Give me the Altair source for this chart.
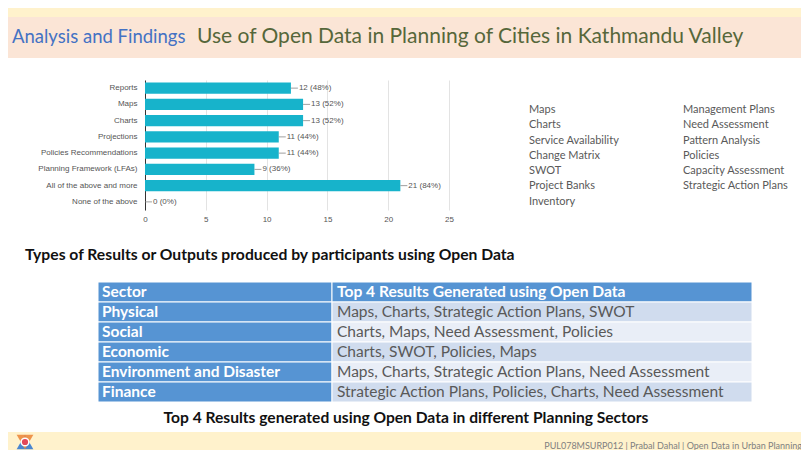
import altair as alt
import pandas as pd

# ---------------- data ----------------
options = ["Reports", "Maps", "Charts", "Projections", "Policies Recommendations",
           "Planning Framework (LFAs)", "All of the above and more", "None of the above"]
counts = [12, 13, 13, 11, 11, 9, 21, 0]
percents = [48, 52, 52, 44, 44, 36, 84, 0]
x_ticks = [0, 5, 10, 15, 20, 25]

list_col1 = ["Maps", "Charts", "Service Availability", "Change Matrix", "SWOT",
             "Project Banks", "Inventory"]
list_col2 = ["Management Plans", "Need Assessment", "Pattern Analysis", "Policies",
             "Capacity Assessment", "Strategic Action Plans"]

table_header = ["Sector", "Top 4 Results Generated using Open Data"]
sectors = ["Physical", "Social", "Economic", "Environment and Disaster", "Finance"]
top4 = ["Maps, Charts, Strategic Action Plans, SWOT",
        "Charts, Maps, Need Assessment, Policies",
        "Charts, SWOT, Policies, Maps",
        "Maps, Charts, Strategic Action Plans, Need Assessment",
        "Strategic Action Plans, Policies, Charts, Need Assessment"]

section_label = "Analysis and Findings"
slide_title = "Use of Open Data in Planning of Cities in Kathmandu Valley"
subtitle = "Types of Results or Outputs produced by participants using Open Data"
caption = "Top 4 Results generated using Open Data in different Planning Sectors"
footer = "PUL078MSURP012 | Prabal Dahal | Open Data in Urban Planning"

# ---------------- layout ----------------
W, H = 304, 130
PAD_L, PAD_T = 137, 72
TOTAL_W, TOTAL_H = 793, 442
PAD_R = TOTAL_W - PAD_L - W
PAD_B = TOTAL_H - PAD_T - H
LEFT = -PAD_L
RIGHT = TOTAL_W - PAD_L
BOTTOM = TOTAL_H - PAD_T

SLIDE_FONT = "Lato"
FORM_FONT = "Liberation Sans"

dummy = pd.DataFrame({"k": [0]})


def band(y0, y1, color):
    return alt.Chart(dummy).mark_rect(color=color).encode(
        x=alt.value(LEFT), x2=alt.value(RIGHT), y=alt.value(y0), y2=alt.value(y1))


def label(text, x, y, size, color, weight="normal", align="left", font=SLIDE_FONT,
          baseline="middle"):
    return alt.Chart(dummy).mark_text(
        text=text, align=align, baseline=baseline, fontSize=size, color=color,
        fontWeight=weight, font=font).encode(x=alt.value(x), y=alt.value(y))


backgrounds = [
    band(-72, -63, "#fff2cc"),
    band(-63, -22, "#fbe5d6"),
    band(352, BOTTOM, "#fff2cc"),
]

titles = [
    label(section_label, -133, -37, 18.5, "#4472c4", baseline="alphabetic"),
    label(slide_title, 52, -37, 21, "#56673a", baseline="alphabetic"),
    label(subtitle, -120, 175, 15.7, "#111111", weight="bold"),
    label(caption, 261, 338, 15.6, "#111111", weight="bold", align="center"),
    label(footer, 657, 366, 9, "#808080", align="right"),
]

# logo (hexagram)
LOGO_X, LOGO_Y = -120, 362
logo = [
    alt.Chart(dummy).mark_point(shape="triangle-up", filled=True, size=280,
                                color="#4a86cf", opacity=1).encode(
        x=alt.value(LOGO_X), y=alt.value(LOGO_Y)),
    alt.Chart(dummy).mark_point(shape="triangle-down", filled=True, size=280,
                                color="#ec8a3e", opacity=0.9).encode(
        x=alt.value(LOGO_X), y=alt.value(LOGO_Y)),
    alt.Chart(dummy).mark_point(shape="circle", filled=True, size=60,
                                color="#e2475a", stroke="white", strokeWidth=1.5,
                                opacity=1).encode(
        x=alt.value(LOGO_X), y=alt.value(LOGO_Y)),
]

# ---------------- bar chart ----------------
bars_df = pd.DataFrame({
    "option": options,
    "count": counts,
    "label": [f"{c} ({p}%)" for c, p in zip(counts, percents)],
})

bx = alt.X("count:Q", scale=alt.Scale(domain=[0, 25], nice=False),
           axis=alt.Axis(values=x_ticks, title=None, grid=True, gridColor="#e3e3e3",
                         domain=False, ticks=False, tickSize=0, labelFlush=False,
                         labelFontSize=8, labelColor="#555555", labelFont=FORM_FONT,
                         labelPadding=5))
by = alt.Y("option:N", sort=options,
           scale=alt.Scale(paddingInner=0.32, paddingOuter=0.16),
           axis=alt.Axis(title=None, ticks=False, tickSize=0, domain=True,
                         domainColor="#333333", labelFontSize=8, labelColor="#555555",
                         labelFont=FORM_FONT, labelPadding=8, labelLimit=200))

bars = alt.Chart(bars_df).mark_bar(color="#17b3cb").encode(x=bx, y=by)
leaders = alt.Chart(bars_df).mark_rule(color="#888888", strokeWidth=0.8,
                                       x2Offset=7).encode(
    x="count:Q", x2="count:Q", y=alt.Y("option:N", sort=options))
values = alt.Chart(bars_df).mark_text(align="left", baseline="middle", dx=8,
                                      fontSize=8, color="#555555",
                                      font=FORM_FONT).encode(
    x="count:Q", y=alt.Y("option:N", sort=options), text="label:N")
bar_chart = alt.layer(bars, leaders, values)

# ---------------- right-hand list ----------------
list_df = pd.DataFrame(
    [{"item": t, "col": 0, "idx": i} for i, t in enumerate(list_col1)]
    + [{"item": t, "col": 1, "idx": i} for i, t in enumerate(list_col2)])
list_chart = alt.Chart(list_df).mark_text(
    align="left", baseline="middle", fontSize=11, color="#595959",
    font=SLIDE_FONT).encode(
    x=alt.X("col:O", scale=alt.Scale(type="point", range=[384, 538], padding=0),
            axis=None),
    y=alt.Y("idx:O", scale=alt.Scale(type="point", range=[30, 121.7], padding=0),
            axis=None),
    text="item:N")

# ---------------- table ----------------
rows = [table_header[0]] + sectors
table_df = pd.DataFrame({
    "row": rows,
    "result": [table_header[1]] + top4,
    "shade": ["head"] + ["dark" if i % 2 == 0 else "light" for i in range(len(sectors))],
})
ty = alt.Y("row:N", sort=rows,
           scale=alt.Scale(type="band", range=[202, 322], paddingInner=0,
                           paddingOuter=0),
           axis=None)
BLUE = "#5694d3"
t_left = alt.Chart(table_df).mark_rect(color=BLUE, stroke="white",
                                       strokeWidth=1).encode(
    x=alt.value(-47), x2=alt.value(187), y=ty)
t_right = alt.Chart(table_df).mark_rect(stroke="white", strokeWidth=1).encode(
    x=alt.value(187), x2=alt.value(607), y=ty,
    fill=alt.Fill("shade:N", scale=alt.Scale(domain=["head", "dark", "light"],
                                              range=[BLUE, "#d0dcee", "#e9eef7"]),
                  legend=None))
t_left_text = alt.Chart(table_df).mark_text(
    align="left", baseline="middle", fontSize=15.5, fontWeight="bold", color="white",
    font=SLIDE_FONT).encode(x=alt.value(-43), y=ty, text="row:N")
t_head_text = alt.Chart(table_df).transform_filter(
    alt.datum.shade == "head").mark_text(
    align="left", baseline="middle", fontSize=15.6, fontWeight="bold", color="white",
    font=SLIDE_FONT).encode(x=alt.value(192), y=ty, text="result:N")
t_body_text = alt.Chart(table_df).transform_filter(
    alt.datum.shade != "head").mark_text(
    align="left", baseline="middle", fontSize=15.5, color="#595959",
    font=SLIDE_FONT).encode(x=alt.value(192), y=ty, text="result:N")
table = alt.layer(t_left, t_right, t_left_text, t_head_text, t_body_text)

chart = alt.layer(
    *backgrounds, *titles, *logo, bar_chart, list_chart, table
).resolve_scale(x="independent", y="independent").properties(
    width=W, height=H,
    padding={"left": PAD_L, "top": PAD_T, "right": PAD_R, "bottom": PAD_B},
    autosize=alt.AutoSizeParams(type="none"),
    background="white",
).configure_view(strokeWidth=0)

chart.save("out.html", embed_options={"renderer": "svg", "actions": False})
